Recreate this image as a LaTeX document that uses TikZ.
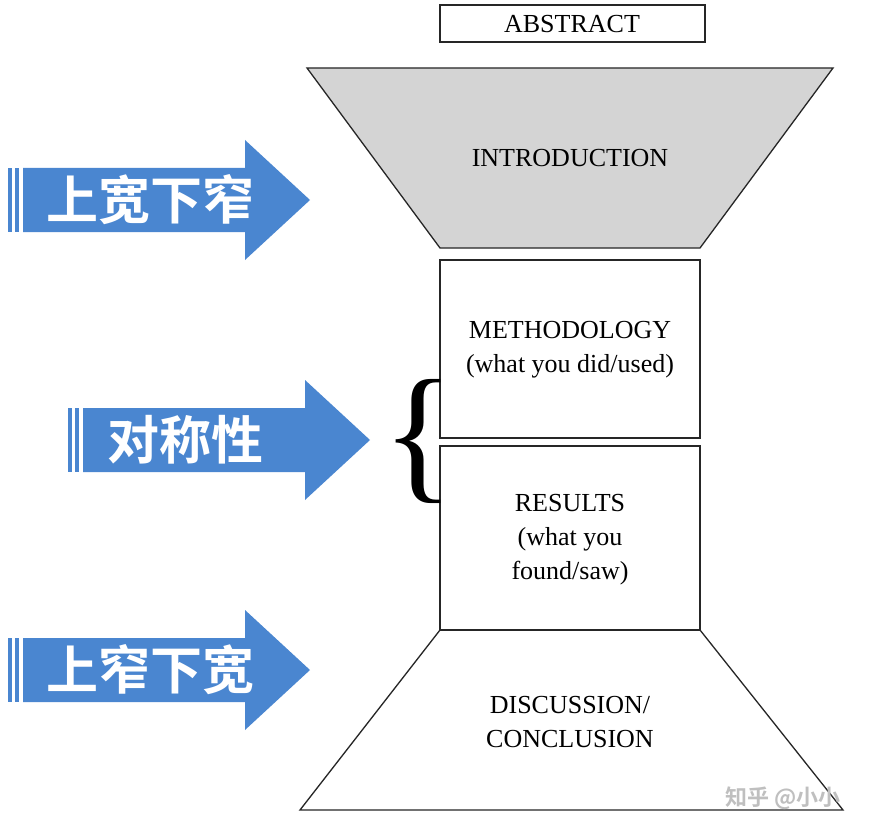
\documentclass[tikz,border=0pt]{standalone}
\usepackage{fontspec}
\setmainfont{Liberation Serif}
\newfontfamily\cjk{Noto Sans CJK SC Bold}
\definecolor{arrblue}{HTML}{4A86D0}
\begin{document}
\begin{tikzpicture}[x=1pt,y=-1pt,
  lbl/.style={font=\fontsize{26}{34}\selectfont,align=center,text=black},
  box/.style={draw=black!85,line width=1.3pt},
  ar/.style={fill=arrblue},
  cn/.style={font=\cjk\fontsize{52}{54}\selectfont,text=white}]
\useasboundingbox[fill=white] (0,0) rectangle (874,834);
% abstract
\draw[box] (440,5) rectangle (705,42);
\node[lbl] (abs) at (572,24) {ABSTRACT};
% intro
\draw[box,fill=black!17] (307,68) -- (833,68) -- (700,248) -- (440,248) -- cycle;
\node[lbl] (intro) at (570,158) {INTRODUCTION};
% method
\draw[box] (440,260) rectangle (700,438);
\node[lbl] (meth) at (570,350) {METHODOLOGY\\(what you did/used)};
\draw[box] (440,446) rectangle (700,630);
\node[lbl] (res) at (570,540) {RESULTS\\(what you\\found/saw)};
\draw[box] (440,630) -- (700,630) -- (843,810) -- (300,810) -- cycle;
\node[lbl] (disc) at (570,722) {DISCUSSION/\\CONCLUSION};
% brace
\node (br) at (418,441) {\fontsize{150}{150}\selectfont\{};
% arrows
\foreach \y/\t/\x/\c/\n in {200/上宽下窄/0/150/a1,440/对称性/60/125/a2,670/上窄下宽/0/150/a3}{
  \fill[ar] (\x+8,\y-32) rectangle (\x+12,\y+32);
  \fill[ar] (\x+15,\y-32) rectangle (\x+19,\y+32);
  \fill[ar] (\x+23,\y-32) -- (\x+245,\y-32) -- (\x+245,\y-60) -- (\x+310,\y) -- (\x+245,\y+60) -- (\x+245,\y+32) -- (\x+23,\y+32) -- cycle;
  \node[cn] (\n) at (\x+\c,\y) {\t};
}
\node[font=\cjk\fontsize{22}{24}\selectfont,text=black!25] (wm) at (783,798) {知乎 @小小};
\end{tikzpicture}
\end{document}
